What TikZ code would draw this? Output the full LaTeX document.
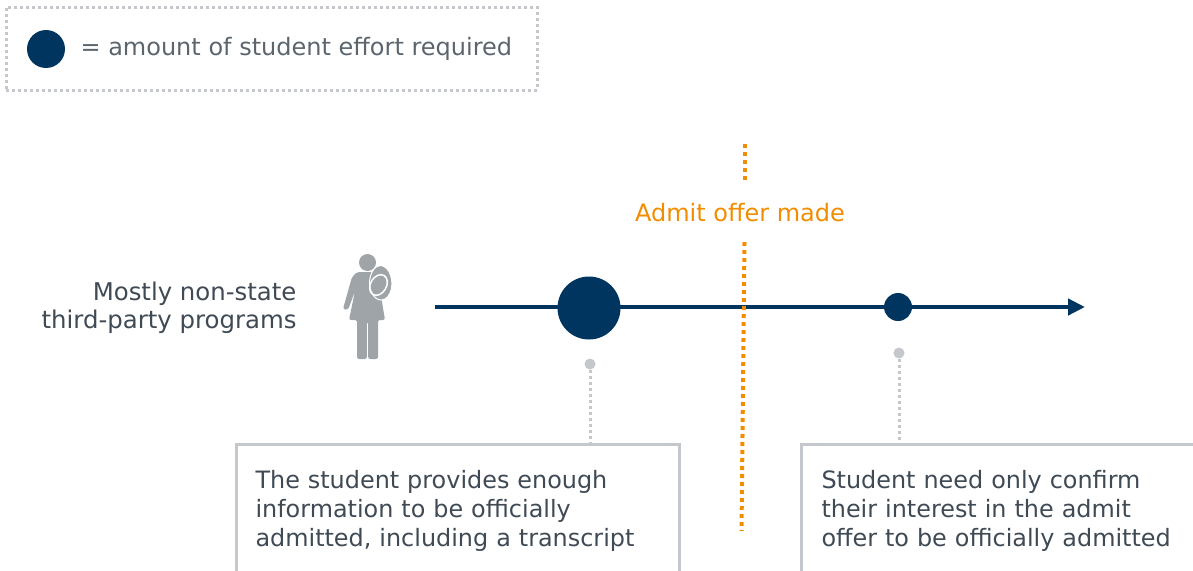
\documentclass[tikz,border=0pt]{standalone}
\usepackage{fontspec}
\setmainfont{DejaVu Sans}
\usetikzlibrary{arrows.meta,positioning}
\definecolor{navy}{HTML}{003560}
\definecolor{boxgray}{HTML}{C4C7CB}
\definecolor{textgray}{HTML}{3F4A55}
\definecolor{admitorange}{HTML}{F28C00}
\definecolor{persongray}{HTML}{9FA4A9}
\tikzset{
  effort/.style={circle, fill=navy, inner sep=0pt},
  pin/.style={circle, fill=boxgray, inner sep=0pt, minimum size=11pt},
  pinline/.style={draw=boxgray, line width=3pt, dash pattern=on 3pt off 3pt},
  admitline/.style={draw=admitorange, line width=4pt, dash pattern=on 4pt off 4pt},
  notebox/.style={draw=boxgray, line width=3pt, outer sep=0pt, anchor=north west, minimum height=134pt,
    text width=#1, align=left, font=\fontsize{23.9}{29}\selectfont, text=textgray},
  label/.style={font=\fontsize{24}{28}\selectfont, text=textgray},
}
\begin{document}
\begin{tikzpicture}[x=1pt, y=-1pt]
\useasboundingbox (0,0) rectangle (1193,570);
% legend
\node [draw=boxgray, line width=3pt, dash pattern=on 3pt off 3pt, outer sep=0pt, minimum width=531pt,
  minimum height=83pt, anchor=north west] (legend) at (6,7) {};
\node [effort, minimum size=38pt] (legend_dot) at (46,49) {};
\node [label, text=textgray!85, anchor=west] (legend_text) at (77,49) {= amount of student effort required};

% person
\node [label, font=\fontsize{24.4}{28}\selectfont, align=right, anchor=east] (programs) at (300,308) {Mostly non-state\\third-party programs};
\node [circle, fill=persongray, inner sep=0pt, minimum size=17pt] (head) at (367.5,262.5) {};
\fill [persongray, rounded corners=2pt] (357,272) -- (377,272) -- (385,320) -- (378,320)
  -- (378,359) -- (368.2,359) -- (368.2,322) -- (366.8,322) -- (366.8,359)
  -- (357,359) -- (357,320) -- (349,320) -- (355,291) -- (348,310) -- (343,309) -- (352,277) -- cycle;
% backpack
\fill [persongray, draw=white, line width=1pt] (381,265.5) .. controls (390,267) and (393,280) .. (391.5,288)
  .. controls (390,296) and (386,300) .. (381,300) .. controls (374,300) and (369,290) .. (369.5,282)
  .. controls (370,273) and (375,265) .. (381,265.5) -- cycle;
\draw [white, line width=1.5pt, rotate around={-30:(378.5,285)}] (378.5,285) ellipse [x radius=8pt, y radius=11pt];

% timeline
\coordinate (line_start) at (435,307);
\coordinate (line_end) at (1085,307);
\draw [navy, line width=4.5pt, -{Triangle[length=17pt,width=16pt]}] (line_start) -- (line_end);
\node [effort, minimum size=63pt] (big_dot) at (589,308) {};
\node [effort, minimum size=28pt] (small_dot) at (898,307) {};

% admit offer
\node [font=\fontsize{24}{28}\selectfont, text=admitorange] (admit) at (740,213) {Admit offer made};
\coordinate (admit_top) at (745,144);
\coordinate (admit_gap) at (745,180);
\coordinate (admit_mid) at (744.5,242);
\coordinate (admit_bot) at (741.5,531);
\path [admitline] (admit_top) -- (admit_gap);
\path [admitline] (admit_mid) -- (admit_bot);

% notes
\node [notebox=404pt, minimum width=443pt, inner xsep=19.5pt] (note_left) at (236,444)
  {The student provides enough\\information to be officially\\admitted, including a transcript};
\node [notebox=380pt, minimum width=420pt, inner xsep=20pt] (note_right) at (801.5,444)
  {Student need only confirm\\their interest in the admit\\offer to be officially admitted};
\node [pin] (pin_left) at (590,364) {};
\node [pin] (pin_right) at (899,353) {};
\path [pinline] (pin_left) -- (pin_left |- note_left.north);
\path [pinline] (pin_right) -- (pin_right |- note_right.north);
\end{tikzpicture}
\end{document}
